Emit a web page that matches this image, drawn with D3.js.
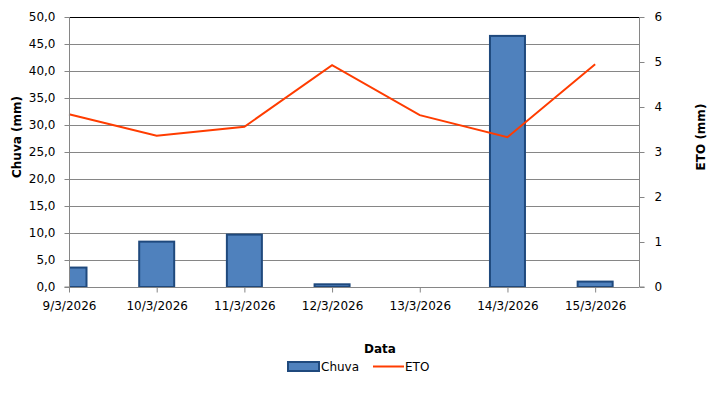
<!DOCTYPE html>
<html><head><meta charset="utf-8">
<script src="https://cdn.jsdelivr.net/npm/d3@7"></script>
<style>body{margin:0;background:#fff}svg{display:block}text{font-family:"DejaVu Sans",Verdana,sans-serif;fill:#000}</style>
</head><body><svg id="c" width="724" height="394"></svg>
<script>
const categories = ["9/3/2026","10/3/2026","11/3/2026","12/3/2026","13/3/2026","14/3/2026","15/3/2026"];
const chuva = [3.6, 8.4, 9.7, 0.5, 0, 46.5, 1.0];
const eto = [3.84, 3.36, 3.56, 4.93, 3.82, 3.33, 4.95];
const leftTicks = [0,5,10,15,20,25,30,35,40,45,50];
const rightTicks = [0,1,2,3,4,5,6];

const svg = d3.select("#c");
const L = 69, R = 639, T = 17, B = 287;
const x = d3.scaleLinear().domain([0, categories.length - 0.5]).range([L, R]);
const yL = d3.scaleLinear().domain([0, 50]).range([B, T]);
const yR = d3.scaleLinear().domain([0, 6]).range([B, T]);
const fmt = d => d.toFixed(1).replace(".", ",");

svg.append("defs").append("clipPath").attr("id","clip")
  .append("rect").attr("x",L).attr("y",T-2).attr("width",R-L).attr("height",B-T+4);

// gridlines
svg.append("g").selectAll("line").data(leftTicks.filter(d=>d>0)).join("line")
  .attr("x1",L).attr("x2",R).attr("y1",d=>Math.round(yL(d))+0.5).attr("y2",d=>Math.round(yL(d))+0.5)
  .attr("stroke",d=>d===50?"#000":"#868686").attr("stroke-width",1);

// bars
const bw = 35;
svg.append("g").attr("clip-path","url(#clip)").selectAll("rect").data(chuva).join("rect")
  .attr("x",(d,i)=>x(i)-bw/2).attr("width",bw)
  .attr("y",d=>yL(d)).attr("height",d=>B-yL(d))
  .attr("fill","#4F81BD").attr("stroke","#1F497D").attr("stroke-width",2)
  .attr("display",d=>d>0?null:"none");

// line
svg.append("path").datum(eto)
  .attr("d", d3.line().x((d,i)=>x(i)).y(d=>yR(d)))
  .attr("fill","none").attr("stroke","#FF3C00").attr("stroke-width",2);

// left axis
const gL = svg.append("g").attr("transform",`translate(${L+0.5},0)`)
  .call(d3.axisLeft(yL).tickValues(leftTicks).tickFormat(fmt).tickSize(5).tickPadding(9));
// right axis
const gR = svg.append("g").attr("transform",`translate(${R+0.5},0)`)
  .call(d3.axisRight(yR).tickValues(rightTicks).tickFormat(d3.format("d")).tickSize(5).tickPadding(10));
// bottom axis
const gB = svg.append("g").attr("transform",`translate(0,${B+0.5})`)
  .call(d3.axisBottom(x).tickValues(d3.range(categories.length)).tickFormat(i=>categories[i]).tickSize(5).tickSizeOuter(0).tickPadding(9));
[gL,gR,gB].forEach(g=>{
  g.selectAll("path.domain").attr("stroke","#868686");
  g.selectAll(".tick line").attr("stroke","#868686");
  g.selectAll("text").style("font-size","12px").style("font-family",'"DejaVu Sans",Verdana,sans-serif').attr("fill","#000");
});
gL.select("path.domain").attr("d",`M-5,${B}H0V${T}`);
gR.select("path.domain").attr("d",`M5,${B}H0V${T}`);
gB.select("path.domain").attr("d",`M${L},0H${R}`);

// axis titles
svg.append("text").attr("transform","translate(21,137) rotate(-90)").attr("text-anchor","middle")
  .style("font-size","12px").style("font-weight","bold").text("Chuva (mm)");
svg.append("text").attr("transform","translate(705,137) rotate(-90)").attr("text-anchor","middle")
  .style("font-size","12px").style("font-weight","bold").text("ETO (mm)");
svg.append("text").attr("x",380).attr("y",353).attr("text-anchor","middle")
  .style("font-size","12px").style("font-weight","bold").text("Data");

// legend
const lg = svg.append("g");
lg.append("rect").attr("x",288).attr("y",362).attr("width",31).attr("height",9)
  .attr("fill","#4F81BD").attr("stroke","#1F497D").attr("stroke-width",2);
lg.append("text").attr("x",321).attr("y",371).style("font-size","12px").text("Chuva");
lg.append("line").attr("x1",373).attr("x2",404).attr("y1",366.5).attr("y2",366.5)
  .attr("stroke","#FF3C00").attr("stroke-width",2);
lg.append("text").attr("x",405).attr("y",371).style("font-size","12px").text("ETO");
</script></body></html>
